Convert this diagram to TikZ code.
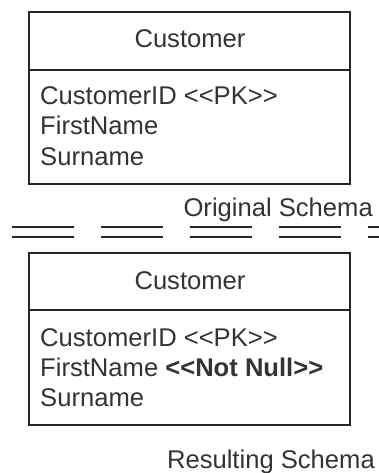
\documentclass[tikz,border=0pt]{standalone}
\usepackage{fontspec}
\setmainfont{Liberation Sans}
\begin{document}
\begin{tikzpicture}[x=1pt,y=-1pt,
  box/.style={draw=black!85,line width=2pt},
  txt/.style={inner sep=0pt,anchor=base west,font=\fontsize{25.6}{30}\selectfont,text=black!80},
  ttl/.style={inner sep=0pt,anchor=base,font=\fontsize{25.6}{30}\selectfont,text=black!80},
  lbl/.style={inner sep=0pt,anchor=base east,font=\fontsize{25.6}{30}\selectfont,text=black!80},
  sep/.style={draw=black!85,line width=2.6pt,dash pattern=on 62pt off 27pt}]
\useasboundingbox (0,0) rectangle (379,473);
% top box
\draw[box] (29,12) rectangle (350,184);
\draw[box] (29,70) -- (350,70);
\node[ttl] (t1) at (190,48) {Customer};
\node[txt] (a1) at (40,105) {CustomerID <{}<PK>{}>};
\node[txt] (b1) at (40,135) {FirstName};
\node[txt] (c1) at (40,165) {Surname};
\node[lbl] (orig) at (373,216) {Original Schema};
% separator
\draw[sep] (12,227) -- (385,227);
\draw[sep] (12,237) -- (385,237);
% bottom box
\draw[box] (29,253) rectangle (350,425);
\draw[box] (29,310) -- (350,310);
\node[ttl] (t2) at (190,289) {Customer};
\node[txt] (a2) at (40,346) {CustomerID <{}<PK>{}>};
\node[txt] (b2) at (40,376) {FirstName \textbf{<{}<Not Null>{}>}};
\node[txt] (c2) at (40,406) {Surname};
\node[lbl] (res) at (375,468) {Resulting Schema};
\end{tikzpicture}
\end{document}
